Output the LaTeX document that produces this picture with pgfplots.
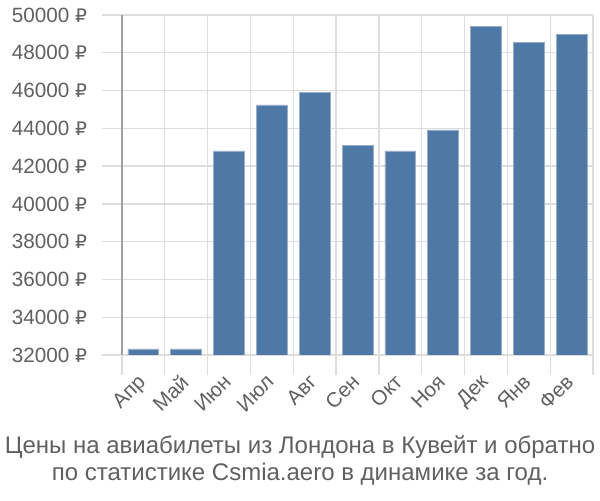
\documentclass[border=0pt]{standalone}
\usepackage{pgfplots}
\pgfplotsset{compat=1.18}
\usepackage{fontspec}
\setmainfont{Liberation Sans}
\newfontfamily\rubfont{DejaVu Sans}
\newcommand{\rub}{{\rubfont\fontsize{14}{16}\selectfont ₽}}
\definecolor{barblue}{RGB}{78,121,167}
\definecolor{txt}{RGB}{96,96,96}
\definecolor{gridc}{RGB}{221,221,221}
\definecolor{axc}{RGB}{160,160,160}
\begin{document}
\begin{tikzpicture}
\path[use as bounding box] (0pt,0pt) rectangle (450pt,375pt);
\begin{axis}[
  at={(91.5pt,108.75pt)}, anchor=south west,
  scale only axis, width=353.25pt, height=255pt,
  xmin=-0.5, xmax=10.5, ymin=32000, ymax=50000,
  scaled y ticks=false, scaled x ticks=false,
  axis x line*=bottom, axis y line*=left,
  x axis line style={draw=gridc, line width=1pt, -},
  y axis line style={draw=axc, line width=1pt, -},
  xtick={-0.5,0.5,...,10.5}, xticklabels={},
  extra x ticks={0,1,...,10},
  extra x tick labels={Апр,Май,Июн,Июл,Авг,Сен,Окт,Ноя,Дек,Янв,Фев},
  extra x tick style={grid=none, major tick length=0pt,
     tick label style={rotate=45, anchor=north east, inner sep=0pt, xshift=-13.2pt, yshift=-5.8pt}},
  ytick={32000,34000,...,50000},
  yticklabels={32000 \rub,34000 \rub,36000 \rub,38000 \rub,40000 \rub,42000 \rub,44000 \rub,46000 \rub,48000 \rub,50000 \rub},
  tick align=outside, major tick length=15pt,
  tick style={draw=gridc, line width=1pt},
  xmajorgrids, ymajorgrids,
  grid style={draw=gridc, line width=1pt},
  tick label style={font=\fontsize{15.5}{17}\selectfont, text=txt},
  yticklabel style={inner sep=1pt, xshift=-10pt},
  /pgf/number format/assume math mode=true,
  ybar, bar width=0.72,
  clip=true,
]
\addplot[fill=barblue, draw=barblue!60!white, line width=0.5pt] coordinates {
 (0,32320) (1,32320) (2,42800) (3,45240) (4,45890) (5,43100)
 (6,42800) (7,43915) (8,49390) (9,48560) (10,48970)};
\end{axis}
\node[text=txt, font=\fontsize{18}{20.25}\selectfont, align=center] at (225pt,30pt)
 {Цены на авиабилеты из Лондона в Кувейт и обратно\\по статистике Csmia.aero в динамике за год.};
\end{tikzpicture}
\end{document}
